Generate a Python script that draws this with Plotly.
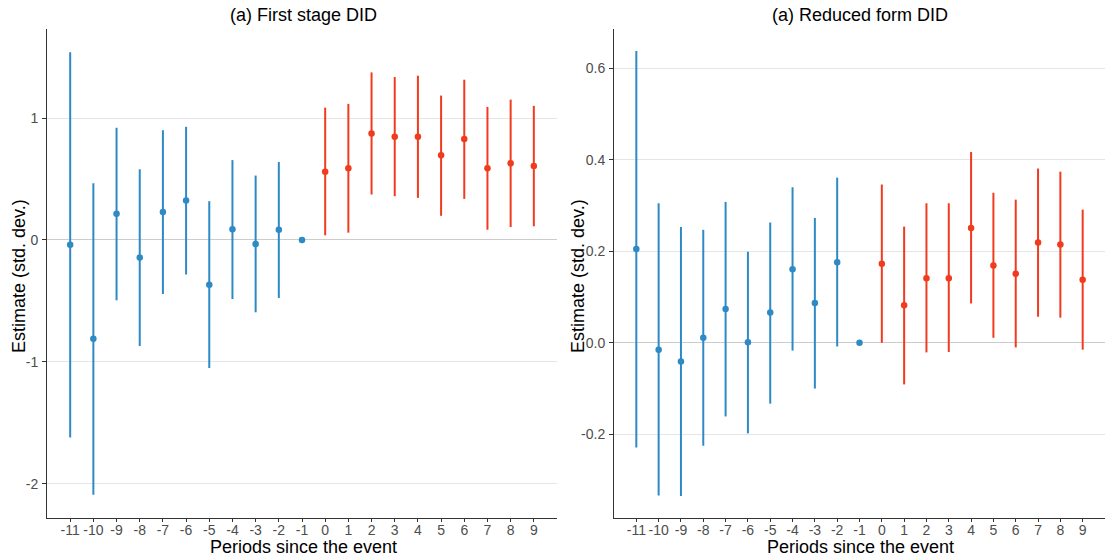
import plotly.graph_objects as go

periods = list(range(-11, 10))
tick_labels = [str(p) for p in periods]

# First stage DID
fs_est = [-0.04, -0.81, 0.215, -0.144, 0.229, 0.324, -0.367, 0.087, -0.033, 0.084, 0.0,
          0.56, 0.588, 0.873, 0.846, 0.846, 0.694, 0.827, 0.588, 0.629, 0.607]
fs_hi = [1.54, 0.465, 0.92, 0.58, 0.90, 0.928, 0.318, 0.655, 0.528, 0.639, 0.0,
         1.085, 1.116, 1.374, 1.336, 1.347, 1.184, 1.314, 1.091, 1.151, 1.10]
fs_lo = [-1.62, -2.09, -0.495, -0.87, -0.443, -0.283, -1.05, -0.484, -0.593, -0.476, 0.0,
         0.038, 0.06, 0.373, 0.359, 0.345, 0.198, 0.337, 0.084, 0.106, 0.112]

# Reduced form DID
rf_est = [0.205, -0.015, -0.041, 0.011, 0.074, 0.001, 0.066, 0.161, 0.087, 0.176, 0.0,
          0.173, 0.082, 0.141, 0.141, 0.251, 0.169, 0.151, 0.219, 0.215, 0.138]
rf_hi = [0.638, 0.305, 0.253, 0.247, 0.308, 0.199, 0.263, 0.34, 0.273, 0.361, 0.0,
         0.346, 0.254, 0.305, 0.305, 0.417, 0.328, 0.313, 0.381, 0.374, 0.291]
rf_lo = [-0.229, -0.334, -0.335, -0.225, -0.161, -0.198, -0.133, -0.017, -0.10, -0.008, 0.0,
         0.0, -0.091, -0.021, -0.02, 0.086, 0.011, -0.010, 0.057, 0.055, -0.015]

BLUE = "#2E8AC4"
RED = "#F03B1F"
FONT = "Liberation Sans"

fig = go.Figure()

def add_panel(est, hi, lo, xa, ya):
    for cond, col in [(lambda p: p < 0, BLUE), (lambda p: p >= 0, RED)]:
        idx = [i for i, p in enumerate(periods) if cond(p)]
        xs = [periods[i] for i in idx]
        ys = [est[i] for i in idx]
        up = [hi[i] - est[i] for i in idx]
        dn = [est[i] - lo[i] for i in idx]
        fig.add_trace(go.Scatter(
            x=xs, y=ys, mode="markers", xaxis=xa, yaxis=ya,
            marker=dict(color=col, size=6.5),
            error_y=dict(type="data", symmetric=False, array=up, arrayminus=dn,
                         color=col, thickness=2, width=0),
            showlegend=False, hoverinfo="x+y"))

add_panel(fs_est, fs_hi, fs_lo, "x", "y")
add_panel(rf_est, rf_hi, rf_lo, "x2", "y2")

W, H = 1105, 558
L, R, T, B = 47, 0, 29, 558 - 518
pw, ph = W - L - R, H - T - B

def px(x):
    return (x - L) / pw

def py(y):
    return (H - B - y) / ph

xcommon = dict(range=[-12, 10], tickmode="array", tickvals=periods, ticktext=tick_labels,
               tickangle=0, ticklabelstandoff=-4,
               showgrid=False, zeroline=False, showline=True, linecolor="#333333", linewidth=1,
               ticks="outside", ticklen=3, tickcolor="#333333",
               tickfont=dict(family=FONT, size=14, color="#4D4D4D"))
ycommon = dict(showgrid=True, gridcolor="#E5E5E5", gridwidth=1,
               zeroline=True, zerolinecolor="#CCCCCC", zerolinewidth=1.2,
               showline=True, linecolor="#333333", linewidth=1,
               ticks="outside", ticklen=4, tickcolor="#333333", ticklabelstandoff=1,
               tickfont=dict(family=FONT, size=14, color="#4D4D4D"))

fig.update_layout(
    width=W, height=H,
    margin=dict(l=L, r=R, t=T, b=B),
    plot_bgcolor="white", paper_bgcolor="white",
    font=dict(family=FONT),
    xaxis=dict(domain=[0, px(557)], anchor="y", **xcommon),
    yaxis=dict(domain=[0, 1], anchor="x", range=[-2.28, 1.73],
               tickvals=[-2, -1, 0, 1], ticktext=["-2", "-1", "0", "1"], **ycommon),
    xaxis2=dict(domain=[px(614), 1], anchor="y2", **xcommon),
    yaxis2=dict(domain=[0, 1], anchor="x2", range=[-0.383, 0.686],
                tickvals=[-0.2, 0.0, 0.2, 0.4, 0.6],
                ticktext=["-0.2", "0.0", "0.2", "0.4", "0.6"], **ycommon),
)

ann_font = dict(family=FONT, size=18, color="black")
title_font = dict(family=FONT, size=18, color="black")
annotations = [
    dict(text="(a) First stage DID", x=px(303), y=py(15), font=title_font),
    dict(text="(a) Reduced form DID", x=px(860), y=py(15), font=title_font),
    dict(text="Periods since the event", x=px(303), y=py(547), font=ann_font),
    dict(text="Periods since the event", x=px(860), y=py(547), font=ann_font),
    dict(text="Estimate (std. dev.)", x=px(19), y=py(276), font=ann_font, textangle=-90),
    dict(text="Estimate (std. dev.)", x=px(578), y=py(276), font=ann_font, textangle=-90),
]
for a in annotations:
    fig.add_annotation(xref="paper", yref="paper", showarrow=False,
                       xanchor="center", yanchor="middle", **a)

# remove the browser's default 8px body margin so the figure sits at the page corner
fig.write_html("out.html", config={"displayModeBar": False},
               post_script="document.body.style.margin='0';document.body.style.overflow='hidden';")
